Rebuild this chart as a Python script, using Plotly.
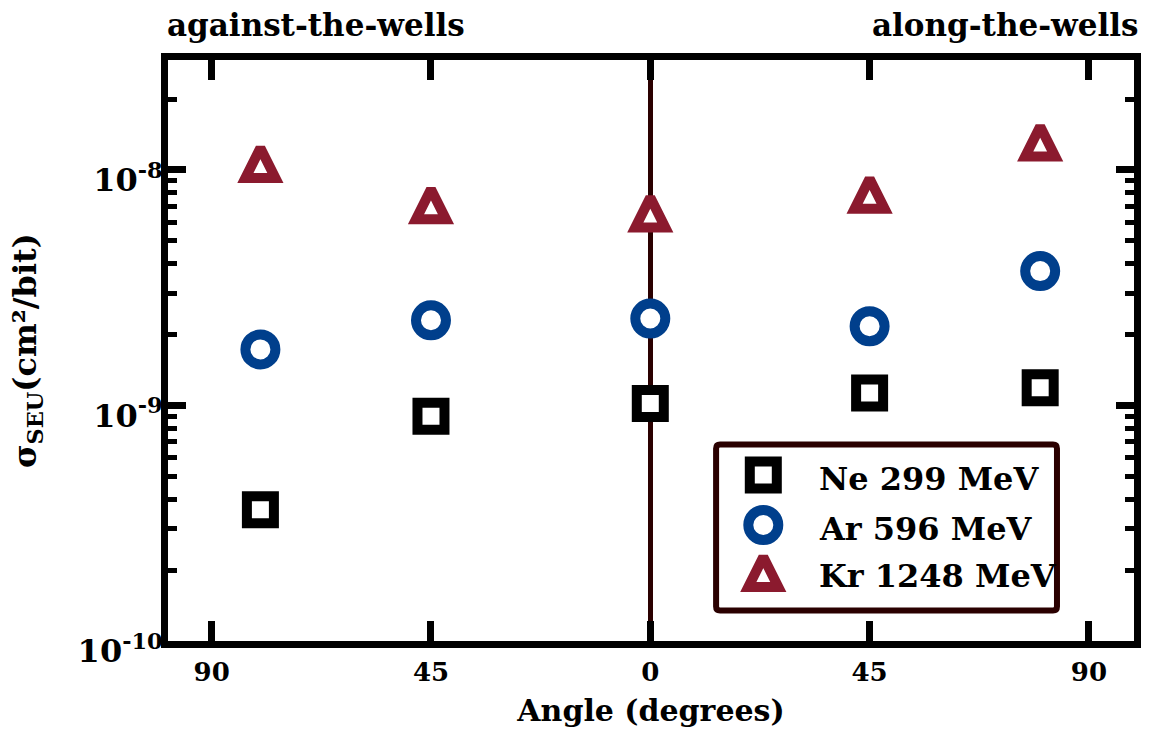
import plotly.graph_objects as go

# Tilt angle of the ion beam (negative = against the wells, positive = along the wells)
angles = [-80, -45, 0, 45, 80]

# SEU cross sections (cm^2/bit) for each ion species
ne_299 = [3.61e-10, 9.00e-10, 1.02e-9, 1.13e-9, 1.19e-9]
ar_596 = [1.73e-9, 2.30e-9, 2.34e-9, 2.17e-9, 3.72e-9]
kr_1248 = [1.07e-8, 7.15e-9, 6.60e-9, 7.93e-9, 1.32e-8]

series_names = ["Ne 299 MeV", "Ar 596 MeV", "Kr 1248 MeV"]

angle_tick_vals = [-90, -45, 0, 45, 90]
angle_tick_text = ["90", "45", "0", "45", "90"]
sigma_tick_vals = [1e-10, 1e-9, 1e-8]
sigma_tick_text = ["10<sup>-10</sup>", "10<sup>-9</sup>", "10<sup>-8</sup>"]

FONT = "DejaVu Serif"
BROWN = "#2a0000"
STYLES = [
    dict(symbol="square", size=27, color="white",
         line=dict(color="#000000", width=10)),
    dict(symbol="circle", size=30, color="white",
         line=dict(color="#003f8c", width=10)),
    # tall up-pointing triangle centred on its point
    dict(symbol="arrow-down", angle=180, standoff=15, size=30, color="white",
         line=dict(color="#8b1a2e", width=10)),
]

W, H = 1153, 736
L, R, T, B = 168, 13, 60, 95
PX0, PX1 = L, W - R          # plot area, pixel columns
PY0, PY1 = H - B, T          # plot area, pixel rows (bottom, top)


def paper_x(px):
    return (px - PX0) / (PX1 - PX0)


def paper_y(py):
    return (PY0 - py) / (PY0 - PY1)


def bold(size):
    return dict(family=FONT, size=size, color="black", weight="bold")


fig = go.Figure()

for name, values, style in zip(series_names, [ne_299, ar_596, kr_1248], STYLES):
    fig.add_trace(go.Scatter(
        x=angles, y=values, mode="markers", name=name,
        marker=style, cliponaxis=False, showlegend=False,
    ))

# Legend drawn on a pixel-unit overlay so its glyphs keep full marker size
legend_rows = [475, 525, 572]
legend_marker_x = 767
legend_text_x = 821
for name, row, style in zip(series_names, legend_rows, STYLES):
    fig.add_trace(go.Scatter(
        x=[legend_marker_x], y=[row], mode="markers", marker=style,
        xaxis="x2", yaxis="y2", showlegend=False, cliponaxis=False,
        hoverinfo="skip",
    ))
    fig.add_annotation(
        x=legend_text_x, y=row + 4, xref="x2", yref="y2", text=name,
        showarrow=False, xanchor="left", yanchor="middle", font=bold(32),
    )

bx0, bx1, by0, by1, rad = 719.5, 1062.5, 444.5, 610.5, 4
box_path = (
    f"M{bx0 + rad},{by0} H{bx1 - rad} Q{bx1},{by0} {bx1},{by0 + rad} "
    f"V{by1 - rad} Q{bx1},{by1} {bx1 - rad},{by1} H{bx0 + rad} "
    f"Q{bx0},{by1} {bx0},{by1 - rad} V{by0 + rad} Q{bx0},{by0} {bx0 + rad},{by0} Z"
)
fig.add_shape(type="path", path=box_path, xref="x2", yref="y2",
              line=dict(color=BROWN, width=6), fillcolor="white", layer="below")

# Direction labels above the frame
fig.add_annotation(x=paper_x(165), y=paper_y(25), xref="paper", yref="paper",
                   text="against-the-wells", showarrow=False,
                   xanchor="left", yanchor="middle", font=bold(31))
fig.add_annotation(x=paper_x(1146), y=paper_y(25), xref="paper", yref="paper",
                   text="along-the-wells", showarrow=False,
                   xanchor="right", yanchor="middle", font=bold(31))

fig.update_layout(
    width=W, height=H,
    margin=dict(l=L, r=R, t=T, b=B),
    paper_bgcolor="white", plot_bgcolor="white",
    font=dict(family=FONT, color="black", weight="bold"),
    showlegend=False,
    xaxis=dict(
        range=[-98.96, 99.25], tickvals=angle_tick_vals, ticktext=angle_tick_text,
        ticks="inside", ticklen=20, tickwidth=7, tickcolor="black",
        showline=True, linewidth=7, linecolor="black", mirror="ticks",
        showgrid=False, zeroline=True, zerolinecolor=BROWN, zerolinewidth=5,
        tickfont=bold(26), ticklabelstandoff=2,
        title=dict(text="Angle (degrees)", standoff=16, font=bold(30)),
    ),
    yaxis=dict(
        type="log", range=[-10, -7.533],
        tickvals=sigma_tick_vals, ticktext=sigma_tick_text,
        ticks="inside", ticklen=18, tickwidth=7, tickcolor="black",
        minor=dict(ticks="inside", ticklen=9, tickwidth=5, tickcolor="black",
                   dtick="D1", showgrid=False),
        showline=True, linewidth=7, linecolor="black", mirror="ticks",
        showgrid=False, zeroline=False,
        tickfont=bold(32), ticklabelshift=10, ticklabelstandoff=-8,
        title=dict(text="σ<sub>SEU</sub>(cm²/bit)", standoff=34, font=bold(32)),
    ),
    xaxis2=dict(overlaying="x", range=[PX0, PX1], visible=False, fixedrange=True),
    yaxis2=dict(overlaying="y", range=[PY0, PY1], visible=False, fixedrange=True),
)

fig.write_html("out.html")
